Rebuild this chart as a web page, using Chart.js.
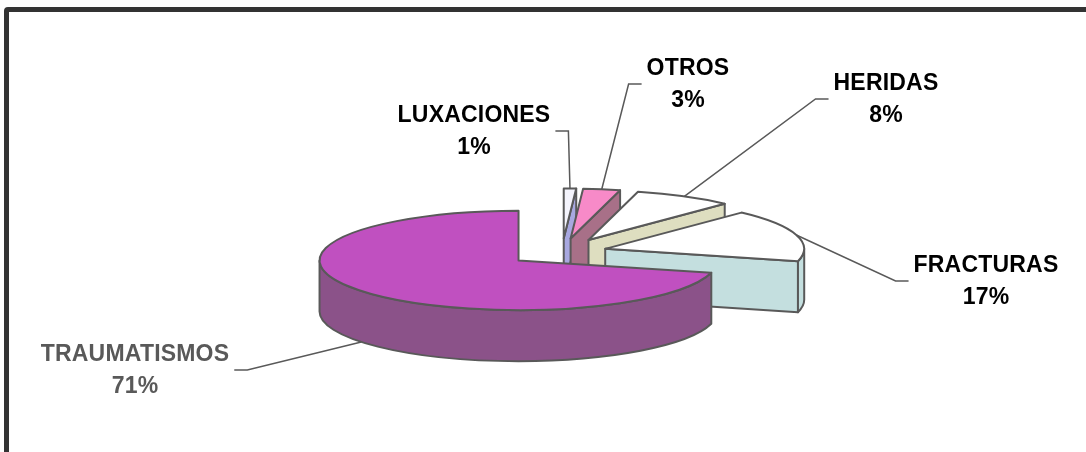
<!DOCTYPE html>
<html>
<head>
<meta charset="utf-8">
<title>Lesiones</title>
<script src="https://cdn.jsdelivr.net/npm/chart.js@4.4.1/dist/chart.umd.min.js"></script>
<style>
    html, body { margin: 0; padding: 0; background: #fff; overflow: hidden; }
    #wrap { position: relative; width: 1086px; height: 452px; overflow: hidden; }
    #frame {
        position: absolute; left: 4px; top: 7px; width: 1200px; height: 600px;
        border: 5px solid #333; border-radius: 4px; box-sizing: border-box;
    }
    canvas { position: absolute; left: 0; top: 0; }
</style>
</head>
<body>
<div id="wrap">
    <div id="frame"></div>
    <canvas id="pieChart" width="1086" height="452"></canvas>
</div>
<script>
// data, clockwise from 12 o'clock
const categories = ['LUXACIONES', 'OTROS', 'HERIDAS', 'FRACTURAS', 'TRAUMATISMOS'];
const percentages = [1, 3, 8, 17, 71];

// styles
const topColors = ['#f4f4fc', '#f78ac8', '#ffffff', '#ffffff', '#c050c0'];
const sideColors = ['#a8a8e0', '#a87088', '#dedec0', '#c4dfdf', '#8b5289'];
const labelColors = ['#000', '#000', '#000', '#000', '#595959'];
const explode = [55, 55, 55, 45, 55];
// label centre x / first baseline y
const labelPos = [[474, 122], [688, 75], [886, 90], [986, 272], [135, 361]];

const TILT = 0.25;   // vertical squash of the pie
const DEPTH = 51;    // thickness in px
const EDGE = '#595959';

function sliceGeom(arc) {
    const p = arc.getProps(['x', 'y', 'startAngle', 'endAngle', 'outerRadius'], true);
    const m = (p.startAngle + p.endAngle) / 2;
    const off = arc.options.offset || 0;
    return {
        cx: p.x + off * Math.cos(m),
        cy: p.y + off * Math.sin(m) * TILT,
        r: p.outerRadius,
        a0: p.startAngle,
        a1: p.endAngle,
        m: m
    };
}

function frontRanges(a0, a1) {
    const out = [];
    for (let base = -2 * Math.PI; base <= 2 * Math.PI; base += 2 * Math.PI) {
        const s = Math.max(a0, base), e = Math.min(a1, base + Math.PI);
        if (e > s) out.push([s, e]);
    }
    return out;
}

const pie3d = {
    id: 'pie3d',
    beforeDatasetsDraw(chart) {
        const ctx = chart.ctx;
        const arcs = chart.getDatasetMeta(0).data;
        const geoms = arcs.map(sliceGeom);
        const order = geoms.map((g, i) => i).sort((i, j) => Math.sin(geoms[i].m) - Math.sin(geoms[j].m));

        ctx.save();
        ctx.lineWidth = 2;
        ctx.strokeStyle = EDGE;
        ctx.lineJoin = 'round';

        order.forEach(i => {
            const g = geoms[i];
            const ry = g.r * TILT;
            ctx.fillStyle = sideColors[i];

            // cut faces facing the viewer
            [[g.a0, Math.cos(g.a0) < -1e-6], [g.a1, Math.cos(g.a1) > 1e-6]].forEach(([a, vis]) => {
                if (!vis) return;
                const ex = g.cx + g.r * Math.cos(a), ey = g.cy + ry * Math.sin(a);
                ctx.beginPath();
                ctx.moveTo(g.cx, g.cy);
                ctx.lineTo(ex, ey);
                ctx.lineTo(ex, ey + DEPTH);
                ctx.lineTo(g.cx, g.cy + DEPTH);
                ctx.closePath();
                ctx.fill();
                ctx.stroke();
            });

            // outer rim, front half only
            frontRanges(g.a0, g.a1).forEach(([s, e]) => {
                ctx.beginPath();
                ctx.ellipse(g.cx, g.cy, g.r, ry, 0, s, e);
                ctx.ellipse(g.cx, g.cy + DEPTH, g.r, ry, 0, e, s, true);
                ctx.closePath();
                ctx.fill();
                ctx.stroke();
            });

            // top
            ctx.beginPath();
            ctx.moveTo(g.cx, g.cy);
            ctx.ellipse(g.cx, g.cy, g.r, ry, 0, g.a0, g.a1);
            ctx.closePath();
            ctx.fillStyle = topColors[i];
            ctx.fill();
            ctx.stroke();
        });
        ctx.restore();
        return false;
    },
    afterDraw(chart) {
        const ctx = chart.ctx;
        const arcs = chart.getDatasetMeta(0).data;
        const total = percentages.reduce((a, b) => a + b, 0);

        ctx.save();
        ctx.font = 'bold 23px "Liberation Sans", Arial, sans-serif';
        ctx.letterSpacing = '0.2px';
        ctx.textAlign = 'center';
        ctx.textBaseline = 'alphabetic';

        arcs.forEach((arc, i) => {
            const g = sliceGeom(arc);
            const [lx, ly] = labelPos[i];
            const name = categories[i];
            const pct = Math.round(percentages[i] / total * 100) + '%';

            ctx.fillStyle = labelColors[i];
            ctx.fillText(name, lx, ly);
            ctx.fillText(pct, lx, ly + 32);

            // leader line
            const z = Math.sin(g.m) > 0 ? DEPTH : 0;
            const ax = g.cx + g.r * Math.cos(g.m);
            const ay = g.cy + g.r * TILT * Math.sin(g.m) + z;
            const w = ctx.measureText(name).width;
            const hy = ly + 9;
            let h0, h1;
            if (lx < ax) { h0 = lx + w / 2 + 5; h1 = h0 + 13; }
            else { h0 = lx - w / 2 - 5; h1 = h0 - 13; }

            ctx.beginPath();
            ctx.moveTo(h0, hy);
            ctx.lineTo(h1, hy);
            ctx.lineTo(ax, ay);
            ctx.strokeStyle = EDGE;
            ctx.lineWidth = 1.5;
            ctx.stroke();
        });
        ctx.restore();
    }
};

new Chart(document.getElementById('pieChart'), {
    type: 'pie',
    data: {
        labels: categories,
        datasets: [{
            data: percentages,
            backgroundColor: topColors,
            borderColor: EDGE,
            offset: explode,
            radius: 199
        }]
    },
    options: {
        responsive: false,
        animation: false,
        layout: { padding: { left: 38, top: 52, right: 0, bottom: 0 } },
        plugins: {
            legend: { display: false },
            tooltip: { enabled: false }
        }
    },
    plugins: [pie3d]
});
</script>
</body>
</html>
